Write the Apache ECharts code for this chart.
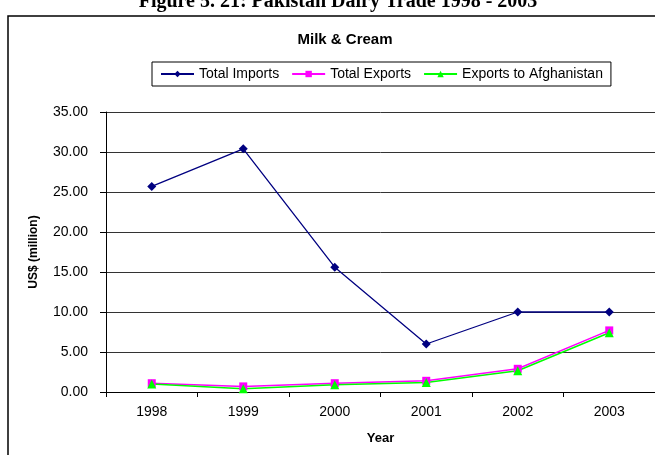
<!DOCTYPE html>
<html>
<head>
<meta charset="utf-8">
<script src="https://cdn.jsdelivr.net/npm/echarts@6/dist/echarts.min.js"></script>
<style>
  html, body { margin: 0; padding: 0; background: #fff; }
  #chart { width: 655px; height: 455px; }
</style>
</head>
<body>
<div id="chart"></div>
<script>
// Pakistan dairy trade, milk & cream, US$ million
const years = ['1998', '1999', '2000', '2001', '2002', '2003'];
const totalImports = [25.7, 30.4, 15.6, 6.0, 10.0, 10.0];
const totalExports = [1.1, 0.7, 1.1, 1.4, 2.9, 7.7];
const exportsAfghanistan = [1.0, 0.4, 0.9, 1.2, 2.65, 7.4];
const yTicks = { min: 0, max: 35, step: 5 };

const sans = '"Liberation Sans", Arial, sans-serif';
const chart = echarts.init(document.getElementById('chart'), null, { renderer: 'canvas' });

chart.setOption({
  backgroundColor: '#ffffff',
  animation: false,
  graphic: [
    {
      type: 'rect',
      shape: { x: 8, y: 16, width: 700, height: 500 },
      style: { fill: 'none', stroke: '#000', lineWidth: 1.5 },
      silent: true
    },
    {
      type: 'text',
      x: 338, y: 12,
      style: {
        text: 'Figure 5. 21: Pakistan Dairy Trade 1998 - 2003',
        font: 'bold 20px "Liberation Serif", "Times New Roman", serif',
        fill: '#000',
        align: 'center',
        verticalAlign: 'bottom'
      },
      silent: true
    }
  ],
  title: {
    text: 'Milk & Cream',
    left: 340, top: 27,
    textAlign: 'center',
    textStyle: { fontFamily: sans, fontWeight: 'bold', fontSize: 15, color: '#000' }
  },
  legend: {
    left: 152, top: 62,
    padding: [5, 8],
    itemGap: 12,
    itemWidth: 33, itemHeight: 8,
    borderColor: '#000', borderWidth: 1,
    textStyle: { fontFamily: sans, fontSize: 14, color: '#000' },
    data: ['Total Imports', 'Total Exports', 'Exports to Afghanistan']
  },
  grid: { left: 106, right: -3, top: 112, bottom: 63, containLabel: false },
  xAxis: {
    type: 'category',
    data: years,
    boundaryGap: true,
    name: 'Year',
    nameLocation: 'middle',
    nameGap: 40,
    nameTextStyle: { fontFamily: sans, fontWeight: 'bold', fontSize: 13, color: '#000' },
    axisLine: { lineStyle: { color: '#000', width: 1 } },
    axisTick: { show: true, length: 5, lineStyle: { color: '#000' } },
    axisLabel: { fontFamily: sans, fontSize: 14, color: '#000', margin: 13 }
  },
  yAxis: {
    type: 'value',
    min: yTicks.min, max: yTicks.max, interval: yTicks.step,
    name: 'US$ (million)',
    nameLocation: 'middle',
    nameRotate: 90,
    nameGap: 66,
    nameTextStyle: { fontFamily: sans, fontWeight: 'bold', fontSize: 12, color: '#000' },
    axisLine: { show: true, lineStyle: { color: '#000', width: 1 } },
    axisTick: { show: true, length: 6, lineStyle: { color: '#000' } },
    axisLabel: {
      fontFamily: sans, fontSize: 14, color: '#000', margin: 18,
      formatter: v => v.toFixed(2)
    },
    splitLine: { show: true, lineStyle: { color: '#333', width: 1 } }
  },
  series: [
    {
      name: 'Total Imports', type: 'line', data: totalImports,
      symbol: 'diamond', symbolSize: 9,
      lineStyle: { color: '#000080', width: 1.3 },
      itemStyle: { color: '#000080' }
    },
    {
      name: 'Total Exports', type: 'line', data: totalExports,
      symbol: 'rect', symbolSize: 8,
      lineStyle: { color: '#ff00ff', width: 1.5 },
      itemStyle: { color: '#ff00ff' }
    },
    {
      name: 'Exports to Afghanistan', type: 'line', data: exportsAfghanistan,
      symbol: 'triangle', symbolSize: 9,
      lineStyle: { color: '#00ff00', width: 1.5 },
      itemStyle: { color: '#00ff00' }
    }
  ]
});
</script>
</body>
</html>
